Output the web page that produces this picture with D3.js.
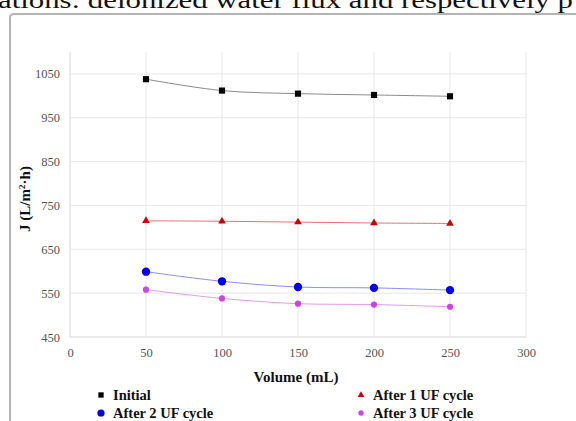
<!DOCTYPE html>
<html><head><meta charset="utf-8">
<script src="https://cdn.jsdelivr.net/npm/d3@7"></script>
<style>html,body{margin:0;padding:0;background:#fff;overflow:hidden}</style>
</head><body>
<svg id="c" width="576" height="421"></svg>
<script>
const volumes = [50, 100, 150, 200, 250];
const initial = [1038, 1012, 1005, 1002, 999];
const after1 = [715, 714, 712, 710, 709];
const after2 = [599, 577, 564, 562, 557];
const after3 = [558, 538, 526, 524, 519];
const xTicks = [0, 50, 100, 150, 200, 250, 300];
const yTicks = [450, 550, 650, 750, 850, 950, 1050];
const seriesNames = ["Initial", "After 1 UF cycle", "After 2 UF cycle", "After 3 UF cycle"];
const topText = "ations: deionized water flux and respectively p";

const serif = "'Liberation Serif','Times New Roman',serif";
const svg = d3.select("#c");

// cropped document text on top
svg.append("text").attr("x", -2).attr("y", 8).attr("font-family", serif)
  .attr("font-size", 24).attr("fill", "#111")
  .attr("textLength", 575).attr("lengthAdjust", "spacingAndGlyphs").text(topText);

// frame
svg.append("path").attr("d", "M10,430 L10,18 Q10,14 14,14 L590,14")
  .attr("fill", "none").attr("stroke", "#b4b4b4").attr("stroke-width", 2);

const x = d3.scaleLinear().domain([0, 300]).range([70, 526]);
const y = d3.scaleLinear().domain([450, 1100]).range([337, 52]);

// grid
const g = svg.append("g");
g.selectAll(".vg").data(xTicks).join("line")
  .attr("x1", d => x(d)).attr("x2", d => x(d)).attr("y1", y(1100)).attr("y2", y(450))
  .attr("stroke", d => d === 0 ? "#d4d4d4" : "#e6e6e6").attr("stroke-width", 1);
g.selectAll(".hg").data(yTicks).join("line")
  .attr("x1", x(0)).attr("x2", x(300)).attr("y1", d => y(d)).attr("y2", d => y(d))
  .attr("stroke", d => d === 450 ? "#d4d4d4" : "#e6e6e6").attr("stroke-width", 1);

// axes (labels only)
const xa = svg.append("g").attr("transform", `translate(0,${y(450)})`)
  .call(d3.axisBottom(x).tickValues(xTicks).tickFormat(d3.format("d")).tickSize(0).tickPadding(11));
const ya = svg.append("g").attr("transform", `translate(${x(0)},0)`)
  .call(d3.axisLeft(y).tickValues(yTicks).tickFormat(d3.format("d")).tickSize(0).tickPadding(10));
[xa, ya].forEach(a => {
  a.select(".domain").remove();
  a.attr("font-family", serif).attr("font-size", 12.5);
  a.selectAll("text").attr("font-family", serif).attr("font-size", 12.5).attr("fill", "#555");
});

// titles
svg.append("text").attr("x", 296).attr("y", 382).attr("text-anchor", "middle")
  .attr("font-family", serif).attr("font-size", 15).attr("font-weight", "bold").attr("fill", "#111")
  .text("Volume (mL)");
const yt = svg.append("text").attr("transform", "translate(30,199) rotate(-90)")
  .attr("text-anchor", "middle").attr("font-family", serif).attr("font-size", 15)
  .attr("font-weight", "bold").attr("fill", "#111");
yt.append("tspan").text("J (L/m");
yt.append("tspan").attr("font-size", 9).attr("dy", -5).text("2");
yt.append("tspan").attr("dy", 5).text("·h)");

const series = [
  {name: seriesNames[0], vals: initial, color: "#000", line: "#8a8a8a", shape: d3.symbolSquare, size: 38},
  {name: seriesNames[1], vals: after1, color: "#cc0000", line: "#e87070", shape: d3.symbolTriangle, size: 26},
  {name: seriesNames[2], vals: after2, color: "#0000ee", line: "#8c8cff", shape: d3.symbolCircle, size: 55},
  {name: seriesNames[3], vals: after3, color: "#cc44e6", line: "#e29af0", shape: d3.symbolCircle, size: 30}
];

const line = d3.line().x(d => x(d[0])).y(d => y(d[1])).curve(d3.curveCatmullRom.alpha(0.5));
series.forEach(s => {
  const pts = volumes.map((v, i) => [v, s.vals[i]]);
  svg.append("path").datum(pts).attr("d", line).attr("fill", "none")
    .attr("stroke", s.line).attr("stroke-width", 1);
  svg.append("g").selectAll("path").data(pts).join("path")
    .attr("transform", d => `translate(${x(d[0])},${y(d[1])})`)
    .attr("d", d3.symbol().type(s.shape).size(s.size)).attr("fill", s.color);
});

// legend
const legPos = [[101, 395], [361, 395], [101, 413], [361, 413]];
series.forEach((s, i) => {
  const [lx, ly] = legPos[i];
  svg.append("path").attr("transform", `translate(${lx},${ly})`)
    .attr("d", d3.symbol().type(s.shape).size(s.size * 0.75)).attr("fill", s.color);
  svg.append("text").attr("x", lx + 12).attr("y", ly + 4.5).attr("font-family", serif)
    .attr("font-size", 14.5).attr("font-weight", "bold").attr("fill", "#111").text(s.name);
});
</script>
</body></html>
